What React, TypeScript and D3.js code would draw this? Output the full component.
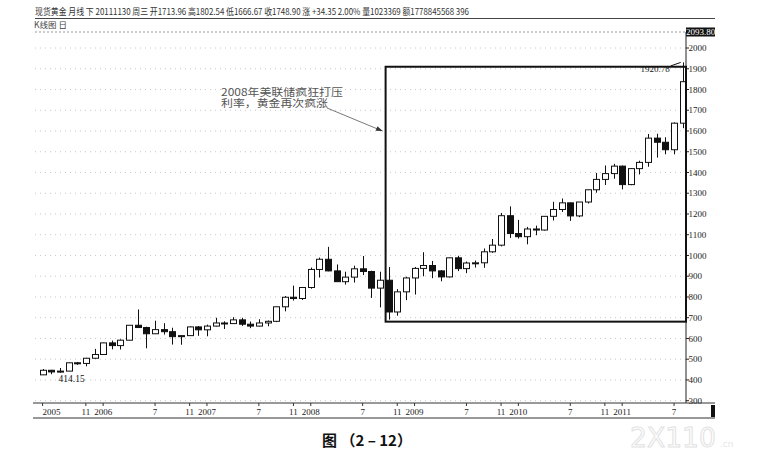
import * as d3 from 'd3'

// monthly spot gold, Jun 2005 .. Aug 2011
const months = d3.timeMonth.range(new Date(2005, 5, 1), new Date(2011, 8, 1))

const open = [
  415, 437, 429, 433, 473, 470, 495,
  513, 569, 556, 582, 654, 643, 613, 633, 623, 599, 604, 646,
  632, 650, 665, 662, 680, 659, 650, 665, 673, 743, 789, 783,
  836, 923, 972, 916, 864, 886, 926, 913, 833, 871, 718, 815,
  882, 928, 942, 916, 887, 979, 927, 954, 955, 1008, 1040, 1182,
  1096, 1081, 1118, 1113, 1179, 1212, 1244, 1181, 1248, 1307, 1357, 1385,
  1421, 1332, 1409, 1439, 1556, 1536, 1500, 1628,
]
const close = [
  437, 429, 433, 473, 470, 495, 513,
  569, 556, 582, 654, 643, 613, 633, 623, 599, 604, 646, 632,
  650, 665, 662, 680, 659, 650, 665, 673, 743, 789, 783, 836,
  923, 972, 916, 864, 886, 926, 913, 833, 871, 718, 815, 882,
  928, 942, 916, 887, 979, 927, 954, 955, 1008, 1040, 1182, 1096,
  1081, 1118, 1113, 1179, 1212, 1244, 1181, 1248, 1307, 1357, 1385, 1421,
  1332, 1409, 1439, 1556, 1536, 1500, 1628, 1828,
]
const high = [
  443, 439, 448, 474, 477, 497, 540,
  570, 580, 586, 654, 730, 647, 676, 664, 642, 606, 649, 650,
  657, 690, 673, 693, 690, 672, 683, 677, 744, 795, 845, 838,
  932, 980, 1032, 947, 912, 941, 988, 917, 912, 935, 828, 888,
  935, 1006, 964, 920, 980, 989, 961, 966, 1024, 1070, 1195, 1227,
  1162, 1128, 1134, 1180, 1249, 1265, 1245, 1248, 1307, 1388, 1424, 1432,
  1424, 1411, 1447, 1576, 1577, 1560, 1632, 1920.78,
]
const low = [
  414.15, 418, 425, 433, 463, 456, 492,
  513, 538, 537, 582, 642, 543, 612, 609, 561, 560, 603, 603,
  601, 648, 636, 661, 651, 640, 648, 649, 669, 721, 773, 776,
  830, 884, 914, 864, 850, 860, 896, 786, 740, 681, 700, 775,
  802, 890, 881, 866, 884, 915, 905, 932, 931, 1003, 1034, 1075,
  1072, 1044, 1088, 1110, 1159, 1200, 1157, 1175, 1241, 1293, 1330, 1360,
  1309, 1329, 1381, 1418, 1462, 1478, 1478, 1604,
]

const yTicks = [300, 400, 500, 600, 700, 800, 900, 1000, 1100, 1200, 1300, 1400, 1500, 1600, 1700, 1800, 1900, 2000]
const xTickIndex = [0, 5, 7, 13, 17, 19, 25, 29, 31, 37, 41, 43, 49, 53, 55, 61, 65, 67, 73]
const xTickText = ['2005', '11', '2006', '7', '11', '2007', '7', '11', '2008', '7', '11', '2009', '7', '11', '2010', '7', '11', '2011', '7']

const titleText =
  '现货黄金 月线 下 20111130 周三 开1713.96 高1802.54 低1666.67 收1748.90 涨 +34.35 2.00% 量1023369 额1778845568 396'
const noteLines = ['2008年美联储疯狂打压', '利率，黄金再次疯涨']
const noteWidths = [122, 107]
const boxStart = 40 // Oct 2008
const boxTop = 1900
const topValue = '2093.80'

const W = 761
const H = 457
const plotLeft = 35
const plotRight = 686
const plotTop = 32
const axisTop = 403
const axisBottom = 418

const serif = '"Liberation Serif", "DejaVu Serif", serif'
const cjk = '"Noto Sans CJK SC", "Noto Sans", sans-serif'

export default function App() {
  const x = d3.scaleLinear().domain([0, months.length - 1]).range([42.6, 682.7])
  const y = d3.scaleLinear().domain([300, 2000]).range([398.7, 46])
  const bodyW = 6

  const lowIdx = d3.minIndex(low)
  const highIdx = d3.maxIndex(high)

  const boxLeft = x(boxStart) - 3
  const boxBottom = y(low[boxStart]) + 2
  const arrowEnd: [number, number] = [boxLeft - 3, y(1590)]
  const arrowStart: [number, number] = [327, 108]
  const ang = Math.atan2(arrowEnd[1] - arrowStart[1], arrowEnd[0] - arrowStart[0])
  const head = d3.path()
  head.moveTo(arrowEnd[0], arrowEnd[1])
  head.lineTo(arrowEnd[0] - 7 * Math.cos(ang - 0.35), arrowEnd[1] - 7 * Math.sin(ang - 0.35))
  head.lineTo(arrowEnd[0] - 7 * Math.cos(ang + 0.35), arrowEnd[1] - 7 * Math.sin(ang + 0.35))
  head.closePath()

  return (
    <svg
      width={W}
      height={H}
      viewBox={`0 0 ${W} ${H}`}
      style={{ position: 'absolute', left: 0, top: 0, background: '#fff' }}
    >
      {/* header */}
      <text x={35} y={15} fontSize={9} fontFamily={cjk} fill="#333" textLength={434} lengthAdjust="spacingAndGlyphs">
        {titleText}
      </text>
      <line x1={35} x2={715} y1={18.5} y2={18.5} stroke="#444" strokeWidth={1} />
      <text x={34} y={28} fontSize={8.5} fontFamily={cjk} fill="#444">
        K线图 日
      </text>
      <line x1={plotLeft} x2={plotRight} y1={plotTop} y2={plotTop} stroke="#999" strokeDasharray="2,2" />
      <rect x={686} y={27.5} width={29} height={9} fill="#111" />
      <text x={700.5} y={35} fontSize={9} fontFamily={serif} fill="#fff" textAnchor="middle">
        {topValue}
      </text>

      {/* grid */}
      {yTicks.map((v) => (
        <line
          key={v}
          x1={plotLeft}
          x2={plotRight}
          y1={y(v) + 2}
          y2={y(v) + 2}
          stroke="#c8c8c8"
          strokeDasharray="1,4"
        />
      ))}

      {/* right axis */}
      <line x1={plotRight} x2={plotRight} y1={plotTop} y2={axisTop} stroke="#222" />
      {yTicks.map((v) => (
        <g key={v}>
          <line x1={plotRight} x2={plotRight + 3} y1={y(v) + 2} y2={y(v) + 2} stroke="#222" />
          <text x={688.5} y={y(v) + 5.2} fontSize={9} fontFamily={serif} fill="#222">
            {v}
          </text>
        </g>
      ))}

      {/* candles */}
      {months.map((m, i) => {
        const o = open[i]
        const c = close[i]
        const top = y(Math.max(o, c))
        const h = Math.max(1, y(Math.min(o, c)) - top)
        const cx = Math.round(x(i)) + 0.5
        return (
          <g key={+m}>
            <line x1={cx} x2={cx} y1={y(high[i])} y2={y(low[i])} stroke="#111" />
            <rect
              x={cx - bodyW / 2}
              y={top}
              width={bodyW}
              height={h}
              fill={c < o ? '#111' : '#fff'}
              stroke="#111"
              strokeWidth={1}
            />
          </g>
        )
      })}

      {/* high / low marks */}
      <line
        x1={x(highIdx) - 12}
        x2={x(highIdx) - 2}
        y1={y(high[highIdx]) + 3.5}
        y2={y(high[highIdx])}
        stroke="#111"
      />
      <text x={x(highIdx) - 13} y={y(high[highIdx]) + 10} fontSize={9} fontFamily={serif} fill="#111" textAnchor="end">
        {high[highIdx].toFixed(2)}
      </text>
      <text x={x(lowIdx) + 16} y={y(low[lowIdx]) + 7} fontSize={9.5} fontFamily={serif} fill="#111">
        {low[lowIdx].toFixed(2)}
      </text>

      {/* highlight box */}
      <rect
        x={boxLeft}
        y={y(boxTop)}
        width={plotRight - boxLeft}
        height={boxBottom - y(boxTop)}
        fill="none"
        stroke="#111"
        strokeWidth={2}
      />

      {/* annotation, two lines in one text */}
      <text fontSize={10.5} fontFamily={cjk} fill="#555">
        {noteLines.map((t, i) => (
          <tspan key={t} x={221} y={95.5 + i * 11.5} textLength={noteWidths[i]} lengthAdjust="spacingAndGlyphs">
            {t}
          </tspan>
        ))}
      </text>
      <line x1={arrowStart[0]} y1={arrowStart[1]} x2={arrowEnd[0]} y2={arrowEnd[1]} stroke="#555" strokeWidth={0.8} />
      <path d={head.toString()} fill="#333" />

      {/* x axis band */}
      <line x1={33} x2={715} y1={axisTop} y2={axisTop} stroke="#333" />
      <line x1={33} x2={715} y1={axisBottom} y2={axisBottom} stroke="#333" />
      {xTickIndex.map((idx, i) => (
        <g key={idx}>
          <line x1={x(idx)} x2={x(idx)} y1={axisTop} y2={axisTop + 3} stroke="#333" />
          <text
            x={x(idx)}
            y={414.5}
            fontSize={9}
            fontFamily={serif}
            fill="#222"
            textAnchor={i === 0 ? 'start' : 'middle'}
          >
            {xTickText[i]}
          </text>
        </g>
      ))}
      <rect x={711} y={405} width={4} height={12} fill="#111" />

      {/* caption */}
      <text x={367} y={446} fontSize={15} fontWeight="bold" fontFamily={cjk} fill="#111" textAnchor="middle">
        图 （2 – 12）
      </text>
      <text
        x={630}
        y={447}
        fontSize={26}
        fontFamily={'"DejaVu Sans", sans-serif'}
        fill="none"
        stroke="#e2e2e2"
        strokeWidth={1}
        textLength={86}
        lengthAdjust="spacingAndGlyphs"
      >
        2X110
      </text>
      <text x={720} y={447} fontSize={9} fontFamily={'"DejaVu Sans", sans-serif'} fill="#e6e6e6">
        .cn
      </text>
    </svg>
  )
}
